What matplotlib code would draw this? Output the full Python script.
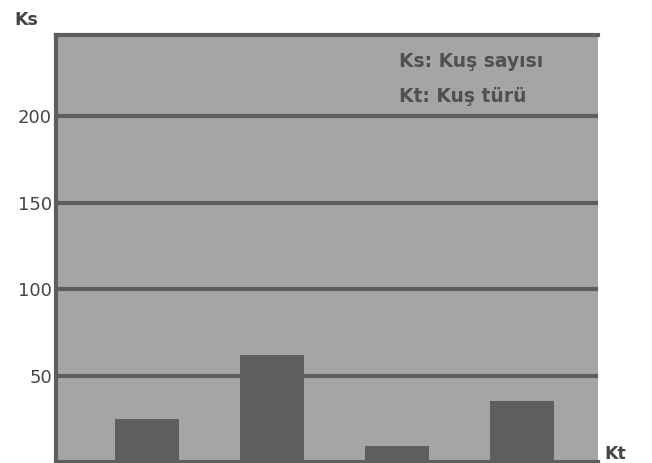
import matplotlib.pyplot as plt
import numpy as np

# bird counts per species (Ks = Kuş sayısı, Kt = Kuş türü)
species = ['A', 'B', 'C', 'D']
counts = [25, 62, 9, 35]
yticks = [50, 100, 150, 200]
legend_lines = ['Ks: Kuş sayısı', 'Kt: Kuş türü']

BG = '#a5a5a8'
DARK = '#5e5e60'
TEXT = '#454545'


def main():
    plt.rcParams['font.family'] = ['DejaVu Sans']
    fig = plt.figure(figsize=(6.52, 4.63), dpi=100)
    ax = fig.add_axes([56 / 652, 1 / 463, 542 / 652, 427 / 463])
    ax.set_facecolor(BG)

    x = np.arange(len(species))
    ax.set_xlim(-0.728, 3.608)
    ax.set_ylim(0, 247)

    # horizontal lines
    for v in yticks:
        ax.axhline(v, color=DARK, lw=3, zorder=1)

    ax.bar(x, counts, width=0.51, color=DARK, zorder=2)

    for side in ['left', 'top', 'bottom']:
        ax.spines[side].set_color(DARK)
        ax.spines[side].set_linewidth(3)
    ax.spines['right'].set_visible(False)

    ax.set_xticks([])
    ax.set_yticks(yticks)
    ax.set_yticklabels([str(v) for v in yticks], fontsize=13, color=TEXT)
    ax.tick_params(axis='y', length=0, pad=3)
    for lbl in ax.get_yticklabels():
        lbl.set_verticalalignment('center_baseline')

    fig.text(14 / 652, 1 - 20 / 463, 'Ks', fontsize=12.5, fontweight='bold',
             color=TEXT, va='center', ha='left')
    fig.text(604 / 652, 1 - 454 / 463, 'Kt', fontsize=12.5, fontweight='bold',
             color=TEXT, va='center', ha='left')

    ax.text(0.632, 0.937, legend_lines[0], transform=ax.transAxes, fontsize=13.5,
            fontweight='bold', color='#505052', va='center', ha='left')
    ax.text(0.632, 0.857, legend_lines[1], transform=ax.transAxes, fontsize=13.5,
            fontweight='bold', color='#505052', va='center', ha='left')

    fig.savefig('out.png', dpi=100)


if __name__ == "__main__":
    main()
